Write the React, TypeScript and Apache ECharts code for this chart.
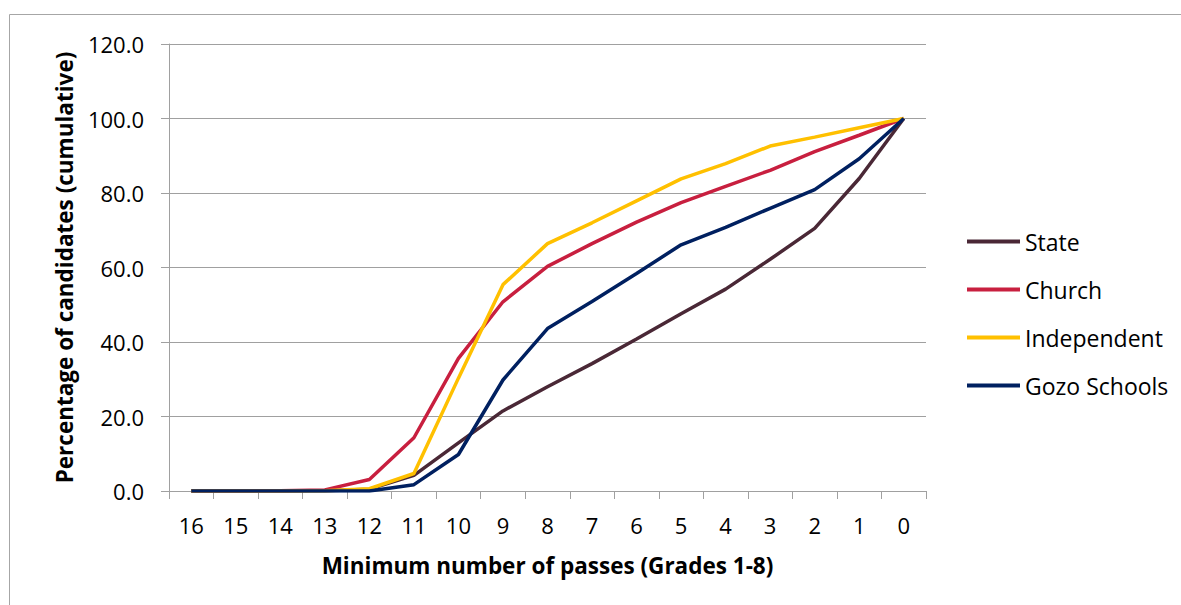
import React, { useEffect, useRef } from "react";
import * as echarts from "echarts";

const categories = ["16", "15", "14", "13", "12", "11", "10", "9", "8", "7", "6", "5", "4", "3", "2", "1", "0"];
const stateValues = [0, 0, 0, 0.1, 0.5, 4.2, 12.9, 21.5, 28.0, 34.2, 40.8, 47.6, 54.2, 62.2, 70.5, 83.9, 100];
const churchValues = [0, 0, 0.1, 0.3, 3.1, 14.3, 35.6, 50.8, 60.3, 66.4, 72.2, 77.4, 81.8, 86.1, 91.1, 95.5, 100];
const independentValues = [0, 0, 0, 0.1, 0.6, 4.7, 30.3, 55.4, 66.4, 72.0, 77.9, 83.8, 87.9, 92.6, 95.0, 97.5, 100];
const gozoValues = [0, 0, 0, 0, 0, 1.7, 9.8, 29.8, 43.6, 50.9, 58.4, 66.1, 70.8, 75.9, 80.9, 89.2, 100];
const seriesNames = ["State", "Church", "Independent", "Gozo Schools"];
const seriesColors = ["#4a2836", "#c81f3f", "#ffc000", "#002060"];

const FONT = "'Open Sans', 'Noto Sans', sans-serif";

export default function App() {
  const ref = useRef<HTMLDivElement>(null);
  useEffect(() => {
    document.body.style.margin = "0";
    const chart = echarts.init(ref.current!, null, { renderer: "svg" });
    const values = [stateValues, churchValues, independentValues, gozoValues];
    chart.setOption({
      animation: false,
      textStyle: { fontFamily: FONT, color: "#000" },
      grid: { left: 169, right: 255, top: 44, bottom: 114, containLabel: false },
      graphic: [
        {
          type: "rect",
          shape: { x: 9.5, y: 14.5, width: 1200, height: 700 },
          style: { fill: "none", stroke: "#a6a6a6", lineWidth: 1 },
          silent: true,
        },
      ],
      legend: {
        orient: "vertical",
        left: 967,
        top: 230,
        padding: 0,
        icon: "rect",
        itemWidth: 53,
        itemHeight: 4,
        itemGap: 25,
        data: seriesNames,
        textStyle: { fontFamily: FONT, fontSize: 23, color: "#000", padding: [0, 0, 0, 0] },
      },
      xAxis: {
        type: "category",
        data: categories,
        boundaryGap: true,
        name: "Minimum number of passes (Grades 1-8)",
        nameLocation: "middle",
        nameGap: 63,
        nameTextStyle: { fontFamily: FONT, fontSize: 22.5, fontWeight: "bold", color: "#000" },
        axisLine: { lineStyle: { color: "#a0a0a0", width: 1 } },
        axisTick: { show: true, length: 8, interval: 0, lineStyle: { color: "#a0a0a0" } },
        axisLabel: { fontFamily: FONT, fontSize: 22, color: "#000", margin: 23, interval: 0 },
        splitLine: { show: false },
      },
      yAxis: {
        type: "value",
        min: 0,
        max: 120,
        interval: 20,
        name: "Percentage of candidates (cumulative)",
        nameLocation: "middle",
        nameGap: 93,
        nameTextStyle: { fontFamily: FONT, fontSize: 22.5, fontWeight: "bold", color: "#000" },
        axisLine: { show: true, lineStyle: { color: "#a0a0a0", width: 1 } },
        axisTick: { show: true, length: 8, lineStyle: { color: "#a0a0a0" } },
        axisLabel: {
          fontFamily: FONT,
          fontSize: 22,
          color: "#000",
          margin: 25,
          formatter: (v: number) => v.toFixed(1),
        },
        splitLine: { show: true, lineStyle: { color: "#a0a0a0", width: 1 } },
      },
      series: seriesNames.map((name, i) => ({
        name,
        type: "line",
        data: values[i],
        symbol: "none",
        showSymbol: false,
        lineStyle: { color: seriesColors[i], width: 3.5 },
        itemStyle: { color: seriesColors[i] },
        z: 3 + i,
      })),
    });
    return () => chart.dispose();
  }, []);
  return <div ref={ref} style={{ width: 1181, height: 605 }} />;
}
